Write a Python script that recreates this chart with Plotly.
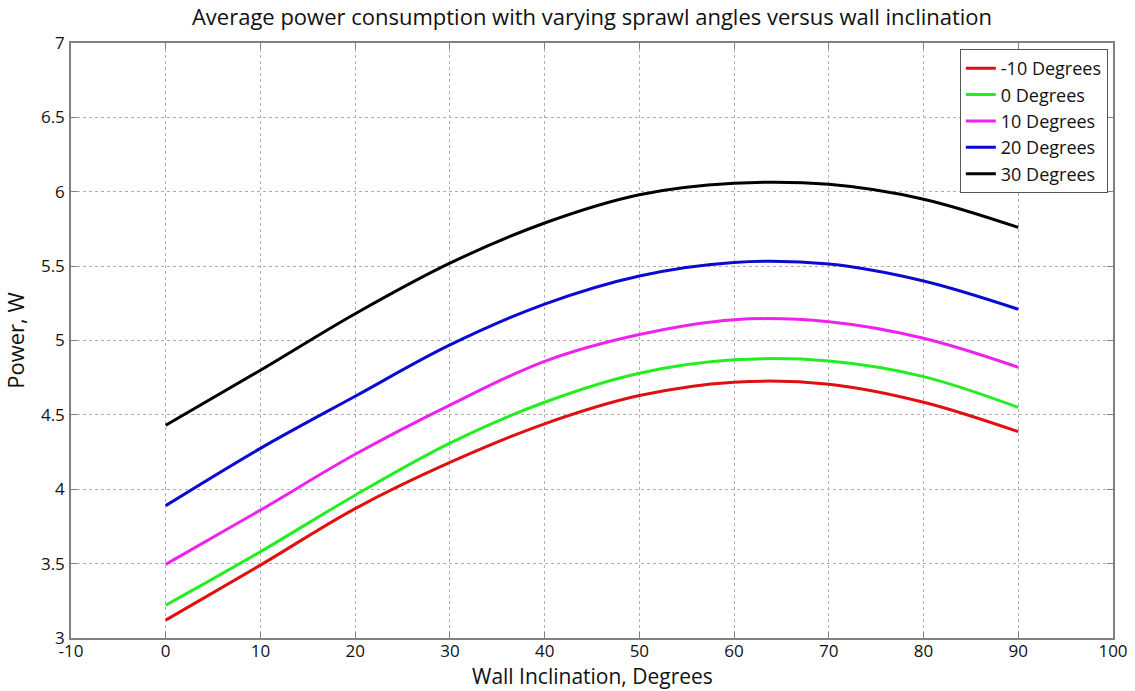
import plotly.graph_objects as go

inclination = [0, 10, 20, 30, 40, 50, 60, 70, 80, 90]
p_m10 = [3.12, 3.49, 3.87, 4.18, 4.44, 4.63, 4.72, 4.706, 4.585, 4.387]
p_0 = [3.22, 3.58, 3.96, 4.31, 4.585, 4.78, 4.87, 4.862, 4.757, 4.55]
p_10 = [3.495, 3.86, 4.235, 4.566, 4.86, 5.04, 5.14, 5.126, 5.015, 4.82]
p_20 = [3.89, 4.275, 4.625, 4.97, 5.245, 5.434, 5.525, 5.514, 5.40, 5.21]
p_30 = [4.43, 4.80, 5.18, 5.52, 5.79, 5.98, 6.057, 6.05, 5.95, 5.76]

series = [
    ("-10 Degrees", p_m10, "#e01010"),
    ("0 Degrees", p_0, "#22ee22"),
    ("10 Degrees", p_10, "#ee22ee"),
    ("20 Degrees", p_20, "#0a0ad0"),
    ("30 Degrees", p_30, "#000000"),
]

x_ticks = list(range(-10, 101, 10))
x_text = [str(v) for v in x_ticks]
y_ticks = [3, 3.5, 4, 4.5, 5, 5.5, 6, 6.5, 7]
y_text = [f"{v:g}" for v in y_ticks]

FONT = "Open Sans, sans-serif"

fig = go.Figure()
for name, vals, col in series:
    fig.add_trace(go.Scatter(x=inclination, y=vals, name=name, mode="lines",
                             line=dict(color=col, width=3, shape="spline", smoothing=1.0)))

axis_common = dict(
    showgrid=True, gridcolor="#b0b0b0", griddash="dot", gridwidth=1,
    showline=True, linecolor="#808080", linewidth=1.5, mirror="ticks",
    ticks="inside", ticklen=6, tickcolor="#808080", zeroline=False,
    automargin=False,
    tickfont=dict(family=FONT, size=17, color="#111111"),
)

fig.update_layout(
    width=1135, height=691,
    margin=dict(l=71, r=22, t=43, b=53),
    paper_bgcolor="white", plot_bgcolor="white",
    title=dict(text="Average power consumption with varying sprawl angles versus wall inclination",
               x=0.5, xref="paper", y=0.975, yanchor="middle",
               font=dict(family=FONT, size=22, color="#111111")),
    xaxis=dict(range=[-10, 100], tickvals=x_ticks, ticktext=x_text, ticklabelstandoff=-3,
               **axis_common),
    yaxis=dict(range=[3, 7], tickvals=y_ticks, ticktext=y_text, ticklabelstandoff=1,
               title=dict(text="Power, W",
                          font=dict(family=FONT, size=22, color="#111111")),
               **axis_common),
    legend=dict(x=0.853, xanchor="left", y=0.99, yanchor="top",
                bgcolor="white", bordercolor="#555555", borderwidth=1,
                font=dict(family=FONT, size=18, color="#111111"),
                tracegroupgap=0, itemwidth=30),
    showlegend=True,
    annotations=[dict(text="Wall Inclination, Degrees", x=0.5, xref="paper",
                      y=0, yref="paper", yanchor="middle", yshift=-38,
                      showarrow=False,
                      font=dict(family=FONT, size=21, color="#111111"))],
)

fig.write_html("out.html")
